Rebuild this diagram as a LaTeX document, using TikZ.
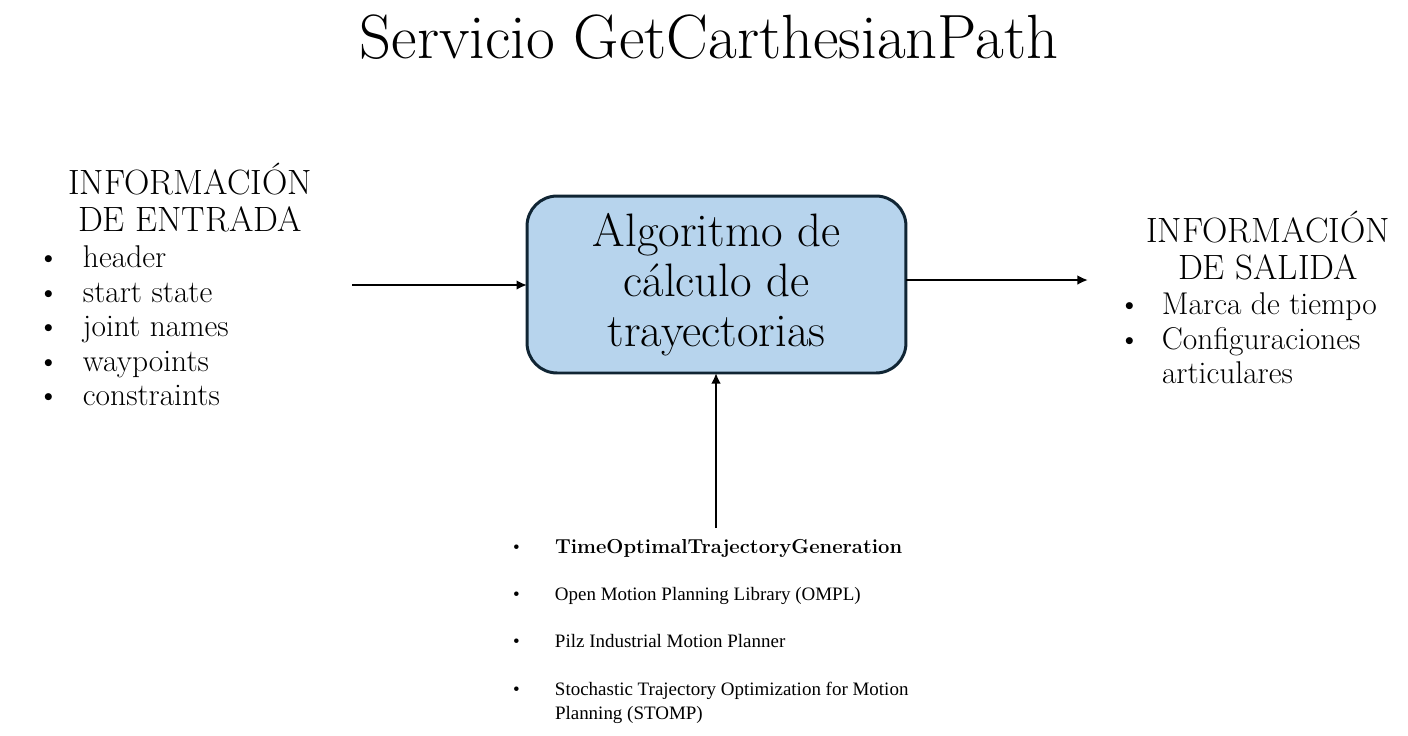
\documentclass[tikz,border=0pt]{standalone}
\usepackage{fontspec}
\newfontfamily\garafont{Liberation Serif}
\usepackage{tikz}
\usetikzlibrary{arrows.meta}
\definecolor{cajaazul}{RGB}{183,212,237}
\definecolor{bordeazul}{RGB}{16,37,52}
\tikzstyle{arrow} = [line width=1.4pt,->,>={Latex[length=6pt,width=5.5pt]}]
\tikzstyle{titulo} = [font=\fontsize{17.9}{19.6}\selectfont, align=left, anchor=base west]
\tikzstyle{lista} = [font=\garafont\fontsize{10.8}{14.2}\selectfont, align=left, anchor=base west]
\newcommand{\vineta}[1]{\makebox[#1][l]{\textbullet}}

\begin{document}
\begin{tikzpicture}[x=0.02cm, y=-0.02cm, every node/.style={inner sep=0pt, outer sep=0pt}]
        \useasboundingbox (0,0) rectangle (1408,735);

        \node[anchor=base, font=\fontsize{35.6}{40}\selectfont] (tit) at (709,58) {Servicio GetCarthesianPath};

        % caja central
        \node[draw=bordeazul, fill=cajaazul, line width=1.7pt, rounded corners=0.6cm,
              minimum width=7.58cm, minimum height=3.54cm, align=center,
              font=\fontsize{26.7}{28.3}\selectfont] (alg) at (716.5,284.5)
              {Algoritmo de\\cálculo de\\trayectorias};

        % entrada
        \node[anchor=base, align=center, font=\fontsize{20}{21}\selectfont] (ent) at (190,231)
              {INFORMACIÓN\\DE ENTRADA};
        \node[titulo] (e1) at (37,267) {\vineta{0.92cm}header};
        \node[titulo] (e2) at (37,302) {\vineta{0.92cm}start state};
        \node[titulo] (e3) at (37,336) {\vineta{0.92cm}joint names};
        \node[titulo] (e4) at (37,371) {\vineta{0.92cm}waypoints};
        \node[titulo] (e5) at (37,405) {\vineta{0.92cm}constraints};

        % salida
        \node[anchor=base, align=center, font=\fontsize{20}{21}\selectfont] (sal) at (1268,279)
              {INFORMACIÓN\\DE SALIDA};
        \node[titulo] (s1) at (1118,314) {\vineta{0.88cm}Marca de tiempo};
        \node[titulo] (s2) at (1118,349) {\vineta{0.88cm}\begin{tabular}[t]{@{}l@{}}Configuraciones\\articulares\end{tabular}};

        % planificadores
        \node[lista] (p1) at (513,553) {\vineta{0.84cm}{\rmfamily\fontsize{11.5}{14}\selectfont\bfseries TimeOptimalTrajectoryGeneration}};
        \node[lista] (p2) at (513,600) {\vineta{0.84cm}Open Motion Planning Library (OMPL)};
        \node[lista] (p3) at (513,647) {\vineta{0.84cm}Pilz Industrial Motion Planner};
        \node[lista] (p4) at (513,695) {\vineta{0.84cm}\begin{tabular}[t]{@{}l@{}}Stochastic Trajectory Optimization for Motion\\Planning (STOMP)\end{tabular}};

        % flechas
        \coordinate (inicio) at (352,285);
        \coordinate (fin) at (1088,280);
        \coordinate (abajo) at (716,528);
        \draw[arrow] (inicio) -- (inicio -| alg.west);
        \draw[arrow] (fin -| alg.east) -- (fin);
        \draw[arrow] (abajo) -- (abajo |- alg.south);
\end{tikzpicture}
\end{document}
